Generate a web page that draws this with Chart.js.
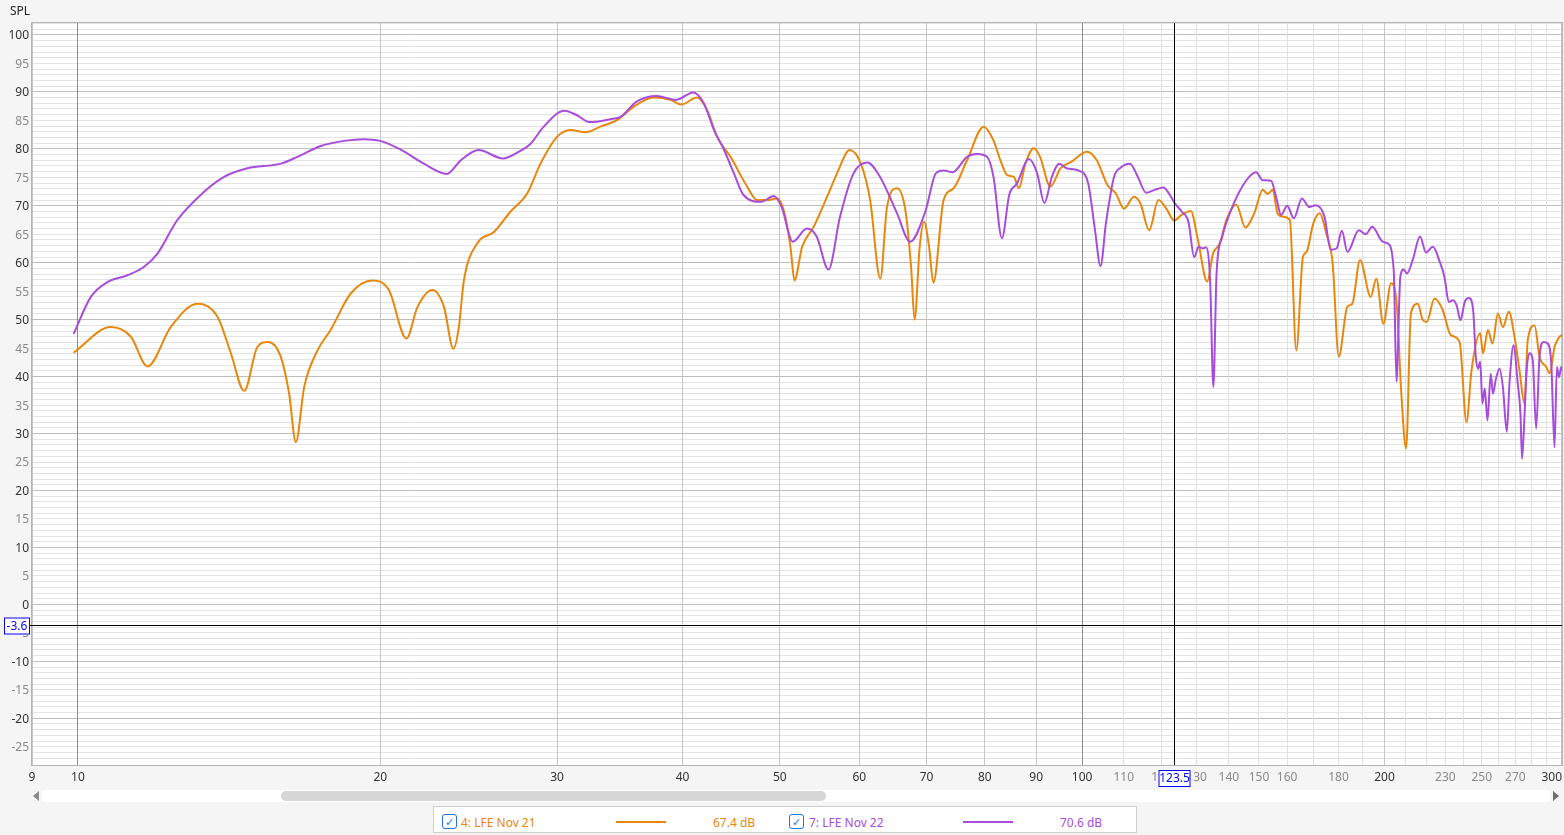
<!DOCTYPE html>
<html lang="en">
<head>
  <meta charset="UTF-8" />
  <title>SPL - LFE Nov 21 / Nov 22</title>
  <script src="https://cdn.jsdelivr.net/npm/chart.js"></script>
  <style>
    html, body { margin: 0; padding: 0; background: #f5f5f5; font-family: "Noto Sans", "Open Sans", sans-serif; }
    #wrap { position: relative; width: 1564px; height: 835px; overflow: hidden; }
    canvas { position: absolute; left: 0; top: 0; }
    .scroll { position: absolute; left: 42px; top: 790px; width: 1508px; height: 12px; background: #fff; }
    .thumb { position: absolute; left: 239px; top: 1px; width: 545px; height: 10px; background: #d6d6d6; border-radius: 5px; }
    .arrow { position: absolute; top: 791px; width: 0; height: 0; border-top: 5px solid transparent; border-bottom: 5px solid transparent; }
    .legend { position: absolute; left: 433px; top: 806px; width: 702px; height: 25px; background: #fff; border: 1px solid #cfcfcf; font-size: 12px; }
    .legend span { position: absolute; top: 7px; white-space: nowrap; }
    .chk { position: absolute; top: 7px; width: 13px; height: 13px; border: 1px solid #1a73e8; border-radius: 3px; color: #1a73e8; font-size: 11px; line-height: 13px; text-align: center; }
    .sample { position: absolute; top: 14px; width: 50px; height: 2px; }
  </style>
</head>
<body>
<div id="wrap">
  <canvas id="spl" width="1564" height="835"></canvas>
  <div class="arrow" style="left:33px; border-right:6px solid #8a8a8a;"></div>
  <div class="scroll"><div class="thumb"></div></div>
  <div class="arrow" style="left:1553px; border-left:6px solid #6e6e6e;"></div>
  <div class="legend" id="legend"></div>
</div>

<script>
  // measured curves (Hz, dB)
  const freqOrange = [9.9, 10.78, 11.29, 11.73, 12.37, 13.15, 13.77, 14.2, 14.64, 15.09, 15.47, 15.92, 16.23, 16.48, 16.8, 17.32, 17.85, 18.69, 19.65, 20.4,
    21.24, 21.78, 22.54, 23.15, 23.65, 23.95, 24.23, 24.98, 25.96, 26.97, 28.02, 28.88, 30.0, 30.94, 32.03, 33.14, 34.44, 35.77, 37.44, 38.9,
    39.9, 41.36, 42.32, 43.3, 44.65, 46.38, 47.46, 48.6, 49.7, 50.44, 51.23, 51.7, 52.62, 54.03, 55.72, 57.01, 58.69, 60.2, 61.5, 62.95,
    63.93, 65.4, 66.68, 67.55, 68.1, 68.9, 69.6, 70.4, 71.1, 72.78, 74.5, 76.8, 79.8, 81.6, 82.9, 84.2, 85.5, 86.5, 87.8, 89.5,
    90.8, 92.95, 95.2, 97.5, 101.1, 103.4, 106.0, 108.0, 110.1, 112.6, 114.3, 116.6, 119.1, 121.3, 123.5, 125.6, 128.3, 130.4, 133.2, 135,
    137.1, 139.2, 142.4, 145.4, 148.4, 151.3, 153, 154.8, 156.5, 158.5, 161, 163.4, 165.9, 167.3, 169.9, 172.4, 175, 177.6, 180.1, 183.7,
    185.8, 189.1, 193.8, 196.3, 199.5, 203.1, 205.7, 207.8, 210.2, 212.5, 215.9, 218.4, 220.4, 224.3, 228.6, 232.8, 237.6, 241.4, 244.2, 249.1,
    250.7, 253.6, 256.2, 259.4, 262.4, 266.0, 269.5, 272.6, 275.7, 277.8, 282.2, 285.4, 289.8, 292.1, 295.4, 298.8, 300.5];
  const splOrange = [44.2, 48.7, 47.0, 41.8, 48.7, 52.8, 50.5, 44.1, 37.5, 45.2, 46.1, 43.5, 37.0, 28.5, 38.2, 44.6, 48.2, 54.6, 56.9, 55.2,
    46.7, 52.2, 55.2, 52.2, 44.9, 48.7, 56.9, 63.4, 65.4, 69.0, 72.2, 77.4, 82.1, 83.3, 82.9, 83.9, 85.1, 87.4, 89.0, 88.6,
    87.8, 89.0, 86.8, 82.1, 78.6, 73.4, 71.0, 71.0, 71.3, 69.2, 62.8, 56.9, 62.8, 66.3, 71.6, 75.7, 79.8, 77.4, 71.0, 57.2,
    69.8, 73.1, 69.2, 59.3, 50.0, 62.8, 67.2, 62.8, 56.5, 71.0, 73.1, 78.0, 83.9, 81.5, 78.0, 75.4, 75.1, 73.1, 77.4, 80.1,
    78.6, 73.4, 76.6, 77.7, 79.5, 78.0, 73.6, 72.2, 69.5, 71.6, 70.4, 65.7, 71.0, 69.5, 67.4, 68.4, 69.1, 64.0, 56.7, 61.6,
    63.4, 67.5, 70.2, 66.2, 68.7, 72.8, 72.1, 72.8, 68.7, 68.1, 67.5, 44.6, 61.0, 61.9, 66.9, 68.7, 65.2, 59.9, 43.5, 52.3,
    52.8, 60.5, 54.0, 57.2, 49.3, 56.4, 52.8, 37.6, 27.4, 51.1, 52.8, 49.9, 49.6, 53.7, 51.7, 47.3, 46.1, 32.0, 41.1, 47.6,
    44.1, 48.2, 45.8, 51.1, 48.7, 51.4, 47.0, 41.1, 35.3, 46.4, 49.0, 43.5, 41.7, 40.6, 45.2, 47.0, 47.3];

  const freqPurple = [9.9, 10.3, 10.7, 11.2, 11.64, 12.0, 12.56, 13.36, 13.98, 14.75, 15.92, 16.54, 17.45, 18.4, 19.26, 20.0, 20.94, 22.1, 23.3, 24.06,
    25.06, 26.5, 27.6, 28.2, 29.1, 30.5, 31.4, 32.3, 33.9, 34.7, 36.0, 37.7, 39.4, 41.0, 42.0, 43.0, 44.0, 45.0, 46.0, 47.9,
    49.3, 50.2, 51.5, 53.2, 54.4, 55.9, 57.4, 59.2, 61.1, 62.9, 65.4, 67.4, 69.8, 71.5, 72.8, 74.3, 76.8, 78.6, 80.4, 81.6,
    83.2, 84.6, 86.1, 88.5, 90.2, 91.7, 93.3, 94.9, 96.5, 99.5, 101.4, 103.0, 104.3, 105.6, 107.6, 109.2, 111.6, 113.6, 115.8, 118.1,
    120.5, 122.3, 123.5, 125.6, 127.6, 129.3, 130.6, 131.9, 132.8, 134.1, 135.1, 136.1, 137.9, 141.1, 145.6, 149, 151.3, 154.2, 156, 157.8,
    160, 162.5, 165.5, 168.3, 170.9, 174.3, 176.8, 179.2, 181.4, 183.7, 188.6, 191.6, 194.5, 199.2, 201.5, 204.3, 205.6, 207.4, 209, 210.6,
    213.4, 217, 220, 223.5, 227, 229.5, 231.8, 234.0, 236.0, 238.1, 240.4, 242.8, 245.1, 246.6, 247.9, 249.1, 250.4, 251.7, 253.3, 255.2,
    256.5, 258.1, 260.4, 262.4, 264.8, 266.4, 268.9, 271.5, 273.2, 274.2, 275.7, 277.1, 278.9, 281.0, 283.2, 285.4, 288.0, 290.9, 293.2, 295.4,
    297.0, 298.4, 300.0, 300.5];
  const splPurple = [47.5, 54.0, 56.6, 57.8, 59.3, 61.6, 67.5, 72.5, 75.1, 76.6, 77.4, 78.6, 80.5, 81.4, 81.7, 81.4, 79.9, 77.4, 75.6, 78.0,
    79.8, 78.3, 79.7, 80.8, 83.9, 86.7, 85.9, 84.7, 85.2, 85.6, 88.3, 89.3, 88.6, 89.9, 88.0, 83.3, 79.8, 75.7, 71.9, 70.7,
    71.7, 69.8, 63.7, 66.0, 64.6, 58.8, 68.1, 75.7, 77.6, 75.1, 68.7, 63.7, 69.0, 75.7, 76.2, 75.9, 78.6, 79.1, 78.6, 75.1,
    64.3, 71.9, 73.9, 78.2, 75.7, 70.5, 75.1, 77.4, 76.6, 76.1, 73.9, 65.7, 59.4, 66.9, 75.1, 76.7, 77.4, 75.1, 72.3, 72.8,
    73.2, 71.9, 70.6, 69.0, 67.2, 61.0, 62.8, 62.5, 62.7, 56.9, 38.2, 58.1, 64.6, 69.8, 74.4, 75.9, 74.5, 74.4, 71.6, 68.4,
    70.0, 67.8, 71.3, 69.8, 70.1, 68.1, 62.3, 62.5, 65.6, 61.9, 65.7, 65.0, 66.3, 63.7, 63.4, 58.7, 39.1, 57.5, 58.8, 58.1,
    60.5, 64.6, 61.8, 62.8, 60.2, 57.5, 53.1, 53.4, 52.5, 49.9, 53.1, 53.8, 51.7, 43.5, 41.4, 42.6, 35.3, 37.9, 32.3, 40.5,
    37.0, 39.4, 41.4, 38.2, 30.3, 38.8, 45.5, 38.8, 33.5, 25.6, 32.9, 41.1, 44.1, 42.9, 30.9, 43.5, 46.1, 45.8, 42.3, 27.6,
    41.7, 39.9, 41.7, 41.0];

  const seriesNames = ['4: LFE Nov 21', '7: LFE Nov 22'];
  const cursorReadings = ['67.4 dB', '70.6 dB'];
  const seriesColors = ['#e8870c', '#a84ddb'];

  const gridFreqs = [9, 10, 20, 30, 40, 50, 60, 70, 80, 90, 100, 110, 120, 130, 140, 150, 160, 170, 180, 190, 200,
    210, 220, 230, 240, 250, 260, 270, 280, 290, 300];
  const labelFreqs = [9, 10, 20, 30, 40, 50, 60, 70, 80, 90, 100, 110, 120, 130, 140, 150, 160, 180, 200, 230, 250, 270, 300];
  const cursorFreq = 123.5;
  const cursorSpl = -3.6;

  function freqGridColor(v) {
    if (v === 10 || v === 100) return '#8c8c8c';
    if (v < 100 || v === 200 || v === 300) return '#c6c6c6';
    return '#e1e1e1';
  }
  function freqLabelColor(v) {
    return (v <= 100 || v === 200 || v === 300) ? '#333' : '#8a8a8a';
  }

  const decorations = {
    id: 'decorations',
    beforeDraw(chart) {
      const { ctx, chartArea: a } = chart;
      ctx.save();
      ctx.fillStyle = '#fff';
      ctx.fillRect(a.left, a.top, a.right - a.left, a.bottom - a.top);
      ctx.restore();
    },
    afterDraw(chart) {
      const { ctx, chartArea: a } = chart;
      const xs = chart.scales.x, ys = chart.scales.y;
      ctx.save();
      // frame
      ctx.strokeStyle = '#b4b4b4';
      ctx.lineWidth = 1;
      ctx.strokeRect(a.left - 0.5, a.top - 0.5, a.right - a.left + 1, a.bottom - a.top + 1);

      // axis title
      ctx.font = '12px "Noto Sans", "Open Sans", sans-serif';
      ctx.fillStyle = '#222';
      ctx.textAlign = 'left';
      ctx.textBaseline = 'middle';
      ctx.fillText('SPL', 10, 12);

      // frequency labels
      labelFreqs.forEach(f => {
        const px = xs.getPixelForValue(f);
        ctx.fillStyle = freqLabelColor(f);
        ctx.textAlign = f === 300 ? 'right' : 'center';
        ctx.fillText(String(f), f === 300 ? a.right : px, a.bottom + 13);
      });

      // cursor
      const cx = Math.round(xs.getPixelForValue(cursorFreq)) + 0.5;
      const cy = Math.round(ys.getPixelForValue(cursorSpl)) + 0.5;
      ctx.strokeStyle = '#000';
      ctx.beginPath();
      ctx.moveTo(cx, a.top); ctx.lineTo(cx, a.bottom);
      ctx.moveTo(a.left - 2, cy); ctx.lineTo(a.right, cy);
      ctx.stroke();

      function tag(text, x, y, w, h) {
        ctx.fillStyle = '#fff';
        ctx.fillRect(x, y, w, h);
        ctx.strokeStyle = '#0000ff';
        ctx.strokeRect(x + 0.5, y + 0.5, w - 1, h - 1);
        ctx.fillStyle = '#0000ff';
        ctx.textAlign = 'center';
        ctx.fillText(text, x + w / 2, y + h / 2 + 0.5);
      }
      tag(String(cursorSpl), 4, cy - 8, 26, 17);
      tag(String(cursorFreq), cx - 16, a.bottom + 5, 32, 17);
      ctx.restore();
    }
  };

  Chart.defaults.font.family = '"Noto Sans", "Open Sans", sans-serif';
  Chart.defaults.font.size = 12;

  const toPoints = (fs, vs) => fs.map((f, i) => ({ x: f, y: vs[i] }));

  new Chart(document.getElementById('spl'), {
    type: 'line',
    data: {
      datasets: [
        { label: seriesNames[0], data: toPoints(freqOrange, splOrange), borderColor: seriesColors[0], order: 1 },
        { label: seriesNames[1], data: toPoints(freqPurple, splPurple), borderColor: seriesColors[1], order: 0 }
      ]
    },
    options: {
      responsive: false,
      animation: false,
      layout: { padding: { top: 23, right: 2, left: 0, bottom: 0 } },
      elements: {
        line: { borderWidth: 2, cubicInterpolationMode: 'monotone' },
        point: { radius: 0, hoverRadius: 0 }
      },
      plugins: { legend: { display: false }, tooltip: { enabled: false } },
      scales: {
        x: {
          type: 'logarithmic',
          min: 9,
          max: 300.5,
          afterBuildTicks: s => { s.ticks = gridFreqs.map(v => ({ value: v })); },
          afterFit: s => { s.height = 70; },
          ticks: { display: false },
          border: { display: false },
          grid: { z: -1, drawTicks: false, color: c => freqGridColor(c.tick.value) }
        },
        y: {
          min: -28.2,
          max: 102.1,
          afterFit: s => { s.width = 32; },
          border: { display: false },
          grid: {
            z: -2,
            drawTicks: false,
            color: c => (c.tick.value % 10 === 0 ? '#bdbdbd' : '#e4e4e4')
          },
          ticks: {
            stepSize: 1,
            autoSkip: false,
            padding: 3,
            labelOffset: 1,
            color: c => (c.tick.value % 10 === 0 ? '#333' : '#8a8a8a'),
            callback: v => (Math.abs(v % 5) < 1e-9 ? String(v) : '')
          }
        }
      }
    },
    plugins: [decorations]
  });

  // legend row
  const legend = document.getElementById('legend');
  const slots = [{ chk: 8, name: 27, line: 182, val: 279 }, { chk: 355, name: 375, line: 529, val: 626 }];
  slots.forEach((s, i) => {
    legend.insertAdjacentHTML('beforeend',
      '<div class="chk" style="left:' + s.chk + 'px">&#10003;</div>' +
      '<span style="left:' + s.name + 'px; color:' + seriesColors[i] + '">' + seriesNames[i] + '</span>' +
      '<div class="sample" style="left:' + s.line + 'px; background:' + seriesColors[i] + '"></div>' +
      '<span style="left:' + s.val + 'px; color:' + seriesColors[i] + '">' + cursorReadings[i] + '</span>');
  });
</script>
</body>
</html>
